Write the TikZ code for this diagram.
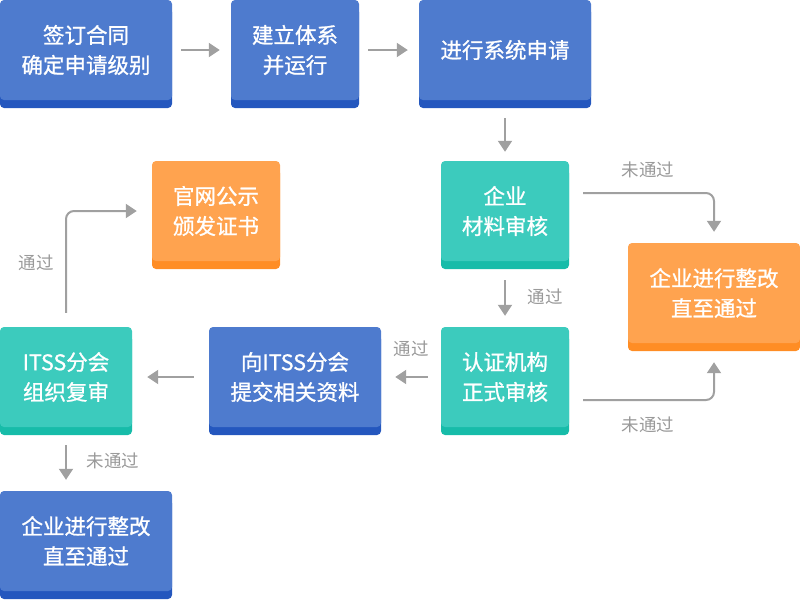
\documentclass[tikz,border=0pt]{standalone}
\usepackage{fontspec}
\newfontfamily\cjk{Noto Sans CJK SC}[FakeBold=1]
\newfontfamily\cjknote{Noto Sans CJK SC}
\usetikzlibrary{arrows.meta, shadows}

\definecolor{blueup}{HTML}{4E7BCE}
\definecolor{bluedn}{HTML}{2457BE}
\definecolor{tealup}{HTML}{3CCBBD}
\definecolor{tealdn}{HTML}{17BCA9}
\definecolor{orangeup}{HTML}{FFA34F}
\definecolor{orangedn}{HTML}{FF8D24}
\definecolor{arrowgray}{HTML}{A0A0A0}
\definecolor{notegray}{HTML}{999999}

\begin{document}
\begin{tikzpicture}[
        x=1pt, y=-1pt,
        box/.style={rounded corners=4pt, minimum height=100pt, inner sep=0pt,
            align=center, text=white, font=\cjk\fontsize{21.5}{30}\selectfont},
        bluebox/.style={box, fill=blueup, drop shadow={shadow xshift=0pt, shadow yshift=-8pt, fill=bluedn, opacity=1}},
        tealbox/.style={box, fill=tealup, drop shadow={shadow xshift=0pt, shadow yshift=-8pt, fill=tealdn, opacity=1}},
        orangebox/.style={box, fill=orangeup, drop shadow={shadow xshift=0pt, shadow yshift=-8pt, fill=orangedn, opacity=1}},
        wide/.style={minimum width=172pt},
        narrow/.style={minimum width=128pt},
        flow/.style={draw=arrowgray, line width=2pt, -{Triangle[width=14pt, length=11pt]}},
        note/.style={text=notegray, font=\cjknote\fontsize{17.5}{20}\selectfont}
        ]
    \useasboundingbox (0,0) rectangle (800,600);

    % Define top row nodes
    \node[bluebox, wide] (sign) at (86, 50) {签订合同\\确定申请级别};
    \node[bluebox, narrow] (build) at (295, 50) {建立体系\\并运行};
    \node[bluebox, wide] (apply) at (505, 50) {进行系统申请};

    % Define middle row nodes
    \node[orangebox, narrow] (publish) at (216, 211) {官网公示\\颁发证书};
    \node[tealbox, narrow] (review) at (505, 211) {企业\\材料审核};
    \node[orangebox, wide] (fixA) at (714, 293) {企业进行整改\\直至通过};

    % Define lower row nodes
    \node[tealbox, minimum width=132pt] (itss) at (66, 377) {ITSS分会\\组织复审};
    \node[bluebox, wide] (submit) at (295, 377) {向ITSS分会\\提交相关资料};
    \node[tealbox, narrow] (formal) at (505, 377) {认证机构\\正式审核};
    \node[bluebox, wide] (fixB) at (86, 541) {企业进行整改\\直至通过};

    % Define edge labels
    \node[note] (failA) at (648, 170) {未通过};
    \node[note] (failB) at (648, 425) {未通过};
    \node[note] (failC) at (113, 461) {未通过};
    \node[note] (passA) at (545, 297) {通过};
    \node[note] (passB) at (411, 349) {通过};
    \node[note] (passC) at (36, 263) {通过};

    % Draw edges along the top row
    \draw[flow, shorten <=9pt, shorten >=11pt] (sign) -- (build);
    \draw[flow, shorten <=9pt, shorten >=11pt] (build) -- (apply);
    \draw[flow, shorten <=18pt, shorten >=9pt] (apply) -- (review);

    % Draw edges through the review steps
    \draw[flow, shorten <=19pt, shorten >=11pt] (review) -- (formal);
    \draw[flow, shorten <=13pt, shorten >=14pt] (formal) -- (submit);
    \draw[flow, shorten <=15pt, shorten >=15pt] (submit) -- (itss);
    \draw[flow, shorten <=18pt, shorten >=11pt] (itss.south) -- (itss.south |- fixB.north);

    % Draw the rounded edges
    \draw[flow, rounded corners=8pt, shorten >=11pt] ([shift={(14,-18)}]review.east) -| (fixA.north);
    \draw[flow, rounded corners=8pt, shorten >=19pt] ([shift={(14,23)}]formal.east) -| (fixA.south);
    \draw[flow, rounded corners=8pt, shorten <=14pt, shorten >=15pt] (itss.north) |- (publish.west);

\end{tikzpicture}
\end{document}
